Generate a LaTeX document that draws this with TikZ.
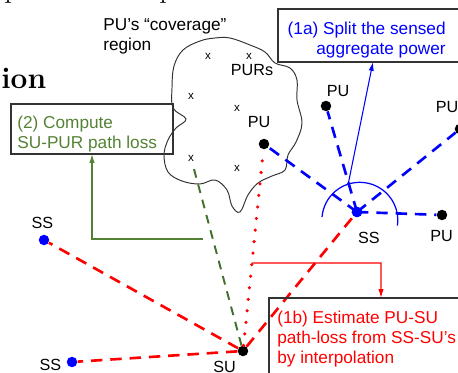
\documentclass[tikz,border=0pt]{standalone}
\usepackage{fontspec}
\newfontfamily\diagfont{Liberation Sans}
\usepackage{tikz}
\usetikzlibrary{calc,arrows.meta}
\definecolor{ssblue}{RGB}{0,0,255}
\definecolor{stepgreen}{RGB}{84,130,53}
\definecolor{linkgreen}{RGB}{66,112,42}
\definecolor{estred}{RGB}{255,0,0}
\tikzset{
  txt/.style      = {font=\diagfont\fontsize{9.8}{11.4}\selectfont, inner sep=0pt},
  stepbox/.style  = {draw=black!80, line width=0.7pt},
  lbl/.style      = {font=\diagfont\fontsize{9.2}{11}\selectfont, inner sep=0pt},
  xmark/.style    = {font=\diagfont\fontsize{6.6}{8}\selectfont, inner sep=1.5pt},
  serif/.style    = {font=\fontsize{17}{20}\selectfont, anchor=base west, inner sep=0pt},
  pudot/.style    = {circle, fill=black, inner sep=0pt, minimum size=0.21cm},
  ssdot/.style    = {circle, fill=ssblue, inner sep=0pt, minimum size=0.21cm},
  beam/.style     = {ssblue, line width=1.5pt, dash pattern=on 6.5pt off 4.5pt},
  sslink/.style   = {estred, line width=1.5pt, dash pattern=on 6.5pt off 4.5pt},
  pulink/.style   = {estred, line width=2pt, line cap=round, dash pattern=on 0pt off 6.6pt},
  purlink/.style  = {linkgreen, line width=1.1pt, dash pattern=on 5pt off 4pt},
  arrowto/.style  = {-{Latex[length=5pt,width=3pt]}, line width=0.6pt},
}

\begin{document}
\begin{tikzpicture}[x=0.02cm,y=0.02cm]
  \useasboundingbox (0,0) rectangle (458,373);
  \clip (0,0) rectangle (458,373);

  % bits of the surrounding page
  \node[serif] (pfrag1) at (4,376) {p};
  \node[serif] (pfrag2) at (159,376) {p};
  \node[serif, font=\bfseries\fontsize{17}{20}\selectfont] (headfrag) at (1,285) {ion};

  % coverage region of the PU
  \draw[black!80, line width=0.55pt] plot[smooth cycle, tension=0.6] coordinates {
    (230,335) (250,328) (265,321) (275,310) (290,305) (297,293) (297,273)
    (302,250) (296,231) (288,218) (285,203) (272,197) (258,190) (248,178)
    (240,161) (232,167) (227,183) (215,193) (200,189) (182,192) (168,201)
    (164,218) (168,233) (176,245) (186,254) (173,265) (172,285) (174,307)
    (183,323) (200,332) (215,335)};
  \node[txt, align=left, anchor=north west] (covlbl) at (103,355) {PU’s “coverage”\\region};
  \node[lbl] (purlbl) at (252,303) {PURs};

  % PURs
  \node[xmark] (xm1) at (208,317) {x};
  \node[xmark] (xm2) at (249,317) {x};
  \node[xmark] (xm3) at (191,277) {x};
  \node[xmark] (xm4) at (237,265) {x};
  \node[xmark] (xm5) at (191,215) {x};
  \node[xmark] (xm6) at (237,205) {x};

  % users and sensors
  \node[pudot] (pu1) at (264,229) {};
  \node[pudot] (pu2) at (326,267) {};
  \node[pudot] (pu3) at (460,244) {};
  \node[pudot] (pu4) at (442,158) {};
  \node[ssdot] (ssc) at (357,161) {};
  \node[ssdot] (ss1) at (44,133) {};
  \node[ssdot] (ss2) at (72,11) {};
  \node[pudot] (su) at (243,22) {};

  \node[lbl] (pu1lbl) at (259,250.5) {PU};
  \node[lbl] (pu2lbl) at (338,281.5) {PU};
  \node[lbl] (pu3lbl) at (447,265.5) {PU};
  \node[lbl] (pu4lbl) at (441.5,137) {PU};
  \node[lbl] (ssclbl) at (369,135) {SS};
  \node[lbl] (ss1lbl) at (42.5,150) {SS};
  \node[lbl] (ss2lbl) at (50.5,8) {SS};
  \node[lbl] (sulbl) at (224.5,6.5) {SU};

  % beam pattern at the sensor
  \foreach \p in {pu1,pu2,pu3,pu4} {
    \draw[beam] (ssc.center) -- (\p);
  }
  \draw[ssblue, line width=0.7pt] (322,156) arc[start angle=175, end angle=-8, radius=38];
  \coordinate (arctop) at (348,188);

  % links to the SU
  \draw[sslink] (su) -- (ss1);
  \draw[sslink] (su) -- (ss2);
  \draw[sslink] (su) -- (ssc);
  \draw[pulink] (su) -- (pu1);
  \draw[purlink] (su) -- (xm5);
  \node[ssdot] at (ssc) {};

  % steps
  \draw[stepbox] (11,219) rectangle (173,269);
  \node[txt, text=stepgreen, align=left, anchor=north west] (step2) at (17,257)
    {(2) Compute\\SU-PUR path loss};
  \draw[stepbox] (278,311) rectangle (470,364);
  \node[txt, text=ssblue, align=right, anchor=north east] (step1a) at (446,351)
    {(1a) Split the sensed\\aggregate power};
  \draw[stepbox] (269,-10) rectangle (470,75);
  \node[txt, text=estred, align=left, anchor=north west] (step1b) at (277,62)
    {(1b) Estimate PU-SU\\path-loss from SS-SU’s\\by interpolation};

  % pointers
  \coordinate (tapa) at (203,134);
  \coordinate (tapb) at ($(su)!0.425!(pu1)$);
  \draw[arrowto, ssblue] (arctop) -- (373,311);
  \draw[arrowto, stepgreen] (tapa) -- (92,134) -- (92,219);
  \draw[arrowto, estred] (tapb) -- (381,110) -- (381,75);
\end{tikzpicture}
\end{document}
